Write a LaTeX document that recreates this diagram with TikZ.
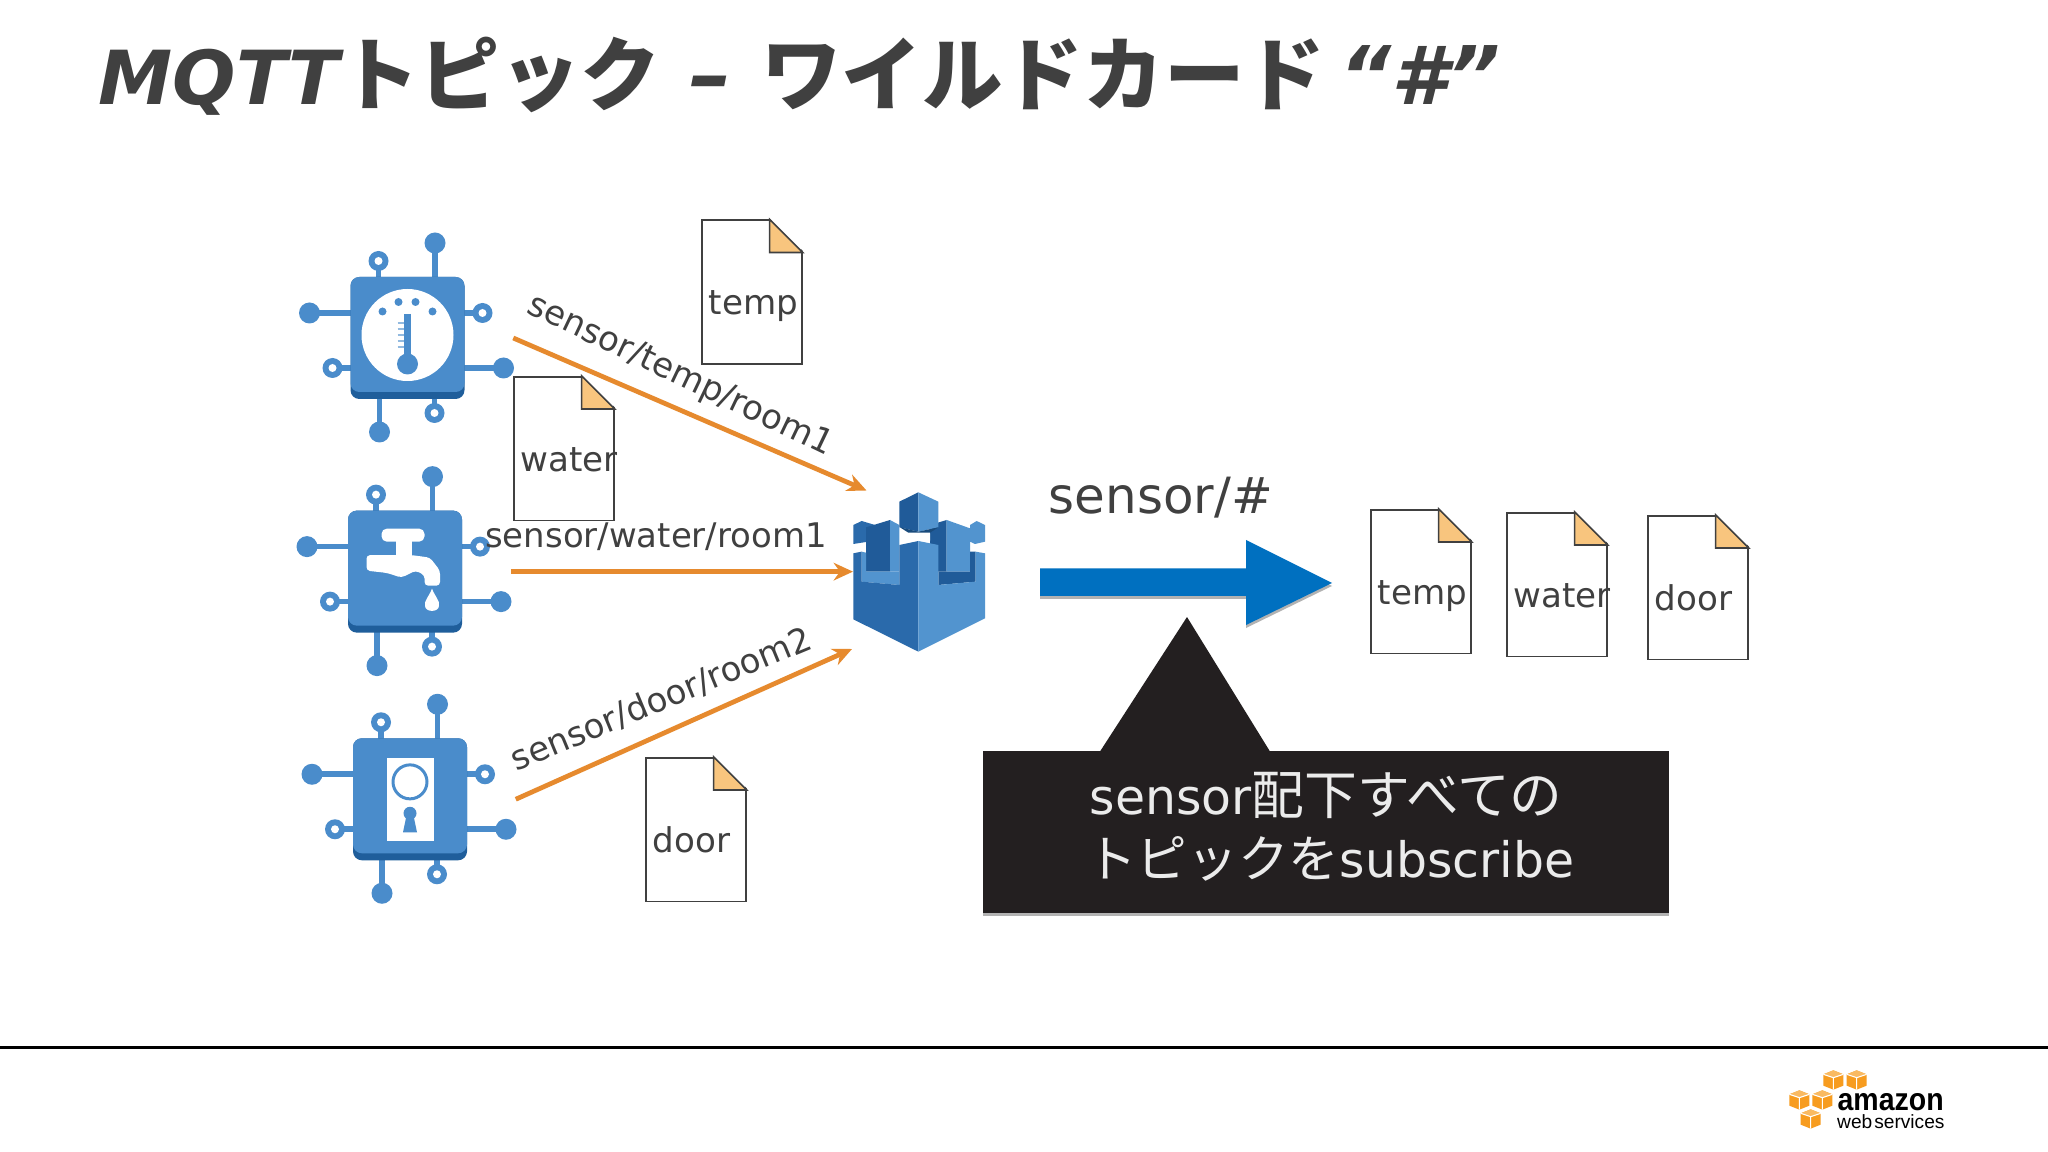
\documentclass[tikz,border=0pt]{standalone}
\usepackage{fontspec}
\usepackage{xcolor}
\usetikzlibrary{arrows.meta, positioning, calc}
\setmainfont{DejaVu Sans}
\newfontfamily\jp{Noto Sans CJK JP}
\newfontfamily\jptitle{Noto Sans CJK JP Bold}
\newfontfamily\logofont{Liberation Sans}
\definecolor{slidetext}{HTML}{404040}
\definecolor{chiplight}{HTML}{4A8CCB}
\definecolor{chipdark}{HTML}{1F5E9B}
\definecolor{castlelight}{HTML}{5294CF}
\definecolor{castlemid}{HTML}{2A6AAB}
\definecolor{castledark}{HTML}{205B99}
\definecolor{topicline}{HTML}{E68A2E}
\definecolor{foldfill}{HTML}{F8C57E}
\definecolor{bigarrow}{HTML}{0070C0}
\definecolor{calloutfill}{HTML}{231F20}
\definecolor{awsorange}{HTML}{F79C1F}
\tikzstyle{arrow} = [line width=1.35pt, draw=topicline, -{Stealth[length=5.5pt, width=5pt]}]
\tikzstyle{chip} = [rectangle, minimum width=2.1cm, minimum height=2.1cm, inner sep=0pt]
\tikzstyle{pin} = [line width=1.6pt, draw=chiplight]
\tikzstyle{doc} = [rectangle, anchor=north west, minimum width=1cm, minimum height=1.435cm, inner sep=0pt, draw=slidetext, line width=0.45pt, fill=white]
\tikzstyle{doctext} = [anchor=base west, inner sep=0pt, text=slidetext, font=\fontsize{9.7pt}{12pt}\selectfont]
\tikzstyle{topic} = [inner sep=0pt, text=slidetext, font=\fontsize{9.65pt}{12pt}\selectfont]

\newcommand{\chipbody}{
  \foreach \px/\py in {27.5/-95, -28/94, -29/-77, 27/75}
    \draw [pin] (\px,\py) -- (\px,0);
  \foreach \px/\py in {-98/-25, 96/30, -75/30, 75/-25}
    \draw [pin] (\px,\py) -- (0,\py);
  \foreach \px/\py in {27.5/-95, -28/94, -98/-25, 96/30}
    \fill [chiplight] (\px,\py) circle (10.5);
  \foreach \px/\py in {-29/-77, 27/75, -75/30, 75/-25} {
    \fill [chiplight] (\px,\py) circle (10);
    \fill [white] (\px,\py) circle (4);
  }
  \fill [chipdark, rounded corners=2.5pt] (-57,-61) rectangle (57,61);
  \fill [chiplight, rounded corners=2.5pt] (-57,-61) rectangle (57,54);
}
\newcommand{\docicon}[4]{
  \node (#1) [doc] at (#2,#3) {};
  \fill [white] ($(#1.north east)+(-33,-1)$) -- ($(#1.north east)+(2,-1)$) -- ($(#1.north east)+(2,33)$) -- cycle;
  \draw [slidetext, line width=0.45pt, fill=foldfill] ($(#1.north east)+(-33,0)$) -- ($(#1.north east)+(-33,33)$) -- ($(#1.north east)+(0,33)$) -- cycle;
  \node (#1text) [doctext] at ($(#1.north west)+(7,95.5)$) {#4};
}

\begin{document}
\begin{tikzpicture}[x=0.01cm, y=-0.01cm]
\useasboundingbox (0,0) rectangle (2048,1152);
\fill [white] (0,0) rectangle (2048,1152);

\node (title) [anchor=base west, inner sep=0pt, text=slidetext] at (98,105) {\fontsize{21.2pt}{26pt}\selectfont\bfseries\itshape MQTT{\jptitle\fontsize{22.8pt}{26pt}\selectfont トピック}{\fontsize{24pt}{26pt}\selectfont\ – }{\jptitle\fontsize{22.9pt}{26pt}\selectfont ワイルドカード}{\fontsize{23pt}{26pt}\selectfont\hspace{0.18em}“\#”}};

\node (chipA) [chip] at (407.5,338) {};
\node (chipB) [chip, below of=chipA, node distance=2.335cm, xshift=-0.025cm] {};
\node (chipC) [chip, below of=chipB, node distance=2.275cm, xshift=0.05cm] {};

\begin{scope}[shift={(chipA.center)}]
  \chipbody
  \fill [white] (0,-3) circle (46);
  \foreach \px/\py in {-25/-26.5, -9/-36, 8/-36, 25/-26.5}
    \fill [chiplight] (\px,\py) circle (4);
  \foreach \py in {-15,-9,-3,3,9}
    \draw [chiplight!60, line width=0.4pt] (-10,\py) -- (-3,\py);
  \draw [chiplight, line width=2pt] (0,-24) -- (0,26);
  \fill [chiplight] (0,26) circle (10.5);
\end{scope}

\begin{scope}[shift={(chipB.center)}]
  \chipbody
  \fill [white, rounded corners=1.5pt] (-23.5,-43) rectangle (19.5,-30);
  \fill [white] (-9,-31) rectangle (7,-16);
  \fill [white, rounded corners=1pt] (-38.5,-16.5) -- (7,-16.5) -- (25,-14) -- (35,-1) -- (35,14) -- (19.6,14) -- (19.6,3.6) -- (10.7,-1) -- (-3.6,6) -- (-18,1.3) -- (-38.5,-1) -- cycle;
  \fill [white] (27,17) .. controls (24,25) and (19,29) .. (20,34) .. controls (20,41) and (34,41) .. (34,34) .. controls (35,29) and (30,25) .. (27,17) -- cycle;
\end{scope}

\begin{scope}[shift={(chipC.center)}]
  \chipbody
  \fill [white] (-23,-41) rectangle (24,41.5);
  \draw [chiplight, line width=0.85pt] (0,-17.4) circle (17);
  \fill [chiplight] (0,14) circle (6.5);
  \fill [chiplight] (-3,14) -- (3,14) -- (7,33) -- (-7,33) -- cycle;
\end{scope}

\docicon{docTemp}{701}{219.5}{temp}
\docicon{docWater}{513}{376}{water}
\docicon{docDoor}{645}{757}{door}
\docicon{subTemp}{1370}{509}{temp}
\docicon{subWater}{1506}{512}{water}
\docicon{subDoor}{1647}{515}{door}

\node (castle) [rectangle, minimum width=1.32cm, minimum height=1.6cm, inner sep=0pt] at (919,572) {};
\begin{scope}[shift={(830,470)}, scale=1/3]
  \fill [castlemid] (70,165) -- (95,153) -- (135,165) -- (135,222) -- (108,216) -- (70,222) -- cycle;
  \fill [castlelight] (420,165) -- (440,153) -- (465,165) -- (465,215) -- (435,222) -- (420,215) -- cycle;
  \fill [castledark] (108,172) -- (180,150) -- (180,305) -- (108,305) -- cycle;
  \fill [castlelight] (180,150) -- (208,165) -- (208,305) -- (180,305) -- cycle;
  \fill [castledark] (300,165) -- (350,150) -- (350,305) -- (300,305) -- cycle;
  \fill [castlelight] (350,150) -- (420,175) -- (420,305) -- (350,305) -- cycle;
  \fill [white] (233,190) -- (300,190) -- (300,212) -- (265,205) -- (233,212) -- cycle;
  \fill [castledark] (208,95) -- (265,67) -- (265,185) -- (208,172) -- cycle;
  \fill [castlelight] (265,67) -- (325,95) -- (325,172) -- (265,185) -- cycle;
  \fill [chipdark!80!black] (210,172) -- (265,185) -- (325,172) -- (300,188) -- (235,188) -- cycle;
  \fill [castlelight] (95,245) -- (108,248) -- (108,305) -- (208,305) -- (208,345) -- (95,335) -- cycle;
  \fill [castledark] (420,245) -- (437,245) -- (437,335) -- (325,345) -- (325,305) -- (420,305) -- cycle;
  \fill [castlemid] (70,250) -- (95,245) -- (95,335) -- (208,345) -- (208,225) -- (265,213) -- (265,545) -- (70,448) -- cycle;
  \fill [castlelight] (265,213) -- (325,225) -- (325,345) -- (437,335) -- (437,245) -- (465,250) -- (465,445) -- (265,545) -- cycle;
\end{scope}

\coordinate (castleTop) at (866.5,490.5);
\coordinate (castleMid) at (853,571.5);
\coordinate (castleLow) at (852,649);

\draw [arrow] (chipA.east) -- (castleTop);
\draw [arrow] (chipB.east) -- (castleMid |- chipB.east);
\draw [arrow] (chipC.east) -- (castleLow);

\node (topicTemp) [topic, rotate=-25.5] at (680,376) {sensor/temp/room1};
\node (topicWater) [topic] at (656,537) {sensor/water/room1};
\node (topicDoor) [topic, rotate=22.5] at (661,699) {sensor/door/room2};

\node (wildcard) [text=slidetext, inner sep=0pt, font=\fontsize{14.2pt}{17pt}\selectfont] at (1161,498) {sensor/\#};

\fill [black!30] (1040,571) -- (1246,571) -- (1246,543) -- (1332,586) -- (1246,628) -- (1246,599) -- (1040,599) -- cycle;
\fill [bigarrow] (1040,568.5) -- (1246,568.5) -- (1246,540) -- (1332,583) -- (1246,625) -- (1246,596) -- (1040,596) -- cycle;

\fill [black!30] (983,755) rectangle (1669,916);
\node (callout) [rectangle, fill=calloutfill, inner sep=0pt, minimum width=6.86cm, minimum height=1.62cm] at (1326,832) {};
\fill [calloutfill] (1100,751.5) -- (1187,617) -- (1270,751.5) -- cycle;
\node (calloutText) [text=white!92!black, inner sep=0pt, text width=4.84cm, align=left, font=\fontsize{13.9pt}{17.8pt}\selectfont] at (1332,827) {sensor{\jp\fontsize{15pt}{17.8pt}\selectfont 配下すべての}\\\hspace*{-1pt}{\jp\fontsize{14.4pt}{17.8pt}\selectfont トピックを}subscribe};

\draw [black, line width=0.6pt] (0,1047.5) -- (2048,1047.5);

\begin{scope}[shift={(1760,1050)}, scale=1/3]
  \foreach \cx/\cy in {220/88, 290/88, 118/148, 187/148, 152/205} {
    \fill [awsorange] (\cx-30,\cy-15) -- (\cx,\cy-27) -- (\cx+30,\cy-15) -- (\cx+30,\cy+19) -- (\cx,\cy+31) -- (\cx-30,\cy+19) -- cycle;
    \fill [awsorange!70!white] (\cx-30,\cy-15) -- (\cx,\cy-27) -- (\cx+30,\cy-15) -- (\cx,\cy-5) -- cycle;
    \draw [white, line width=0.3pt] (\cx-30,\cy-15) -- (\cx,\cy-5) -- (\cx+30,\cy-15) (\cx,\cy-5) -- (\cx,\cy+31);
  }
\end{scope}
\node (logoAmazon) [anchor=base west, inner sep=0pt, xscale=0.9, font=\logofont\bfseries\fontsize{9pt}{10pt}\selectfont] at (1837,1110) {amazon};
\node (logoWeb) [anchor=base west, inner sep=0pt, font=\logofont\fontsize{5.45pt}{7pt}\selectfont] at (1836.5,1128) {web\hspace{0.1em}services};

\end{tikzpicture}
\end{document}
